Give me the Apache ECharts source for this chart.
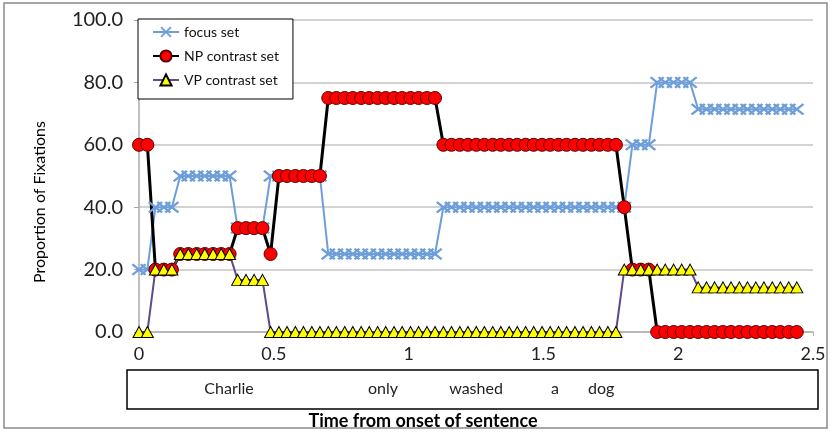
<!DOCTYPE html>
<html>
<head>
<meta charset="utf-8">
<script src="https://cdn.jsdelivr.net/npm/echarts@6/dist/echarts.min.js"></script>
<style>
html,body{margin:0;padding:0;background:#fff;}
#c{width:832px;height:432px;}
</style>
</head>
<body>
<div id="c"></div>
<script>
// Time bins (s)
var times = [0,0.031,0.061,0.092,0.122,0.153,0.183,0.214,0.244,0.275,
  0.305,0.336,0.366,0.397,0.427,0.458,0.488,0.519,0.549,0.58,
  0.61,0.641,0.671,0.702,0.732,0.763,0.793,0.824,0.854,0.885,
  0.915,0.946,0.976,1.007,1.037,1.068,1.098,1.129,1.159,1.19,
  1.22,1.251,1.281,1.312,1.342,1.373,1.403,1.434,1.464,1.495,
  1.525,1.556,1.586,1.617,1.647,1.678,1.708,1.739,1.769,1.8,
  1.83,1.861,1.891,1.922,1.952,1.983,2.013,2.044,2.074,2.105,
  2.135,2.166,2.196,2.227,2.257,2.288,2.318,2.349,2.379,2.41,
  2.44];
var focusSet = [20,20,40,40,40,50,50,50,50,50,
  50,50,33.3,33.3,33.3,33.3,50,50,50,50,
  50,50,50,25,25,25,25,25,25,25,
  25,25,25,25,25,25,25,40,40,40,
  40,40,40,40,40,40,40,40,40,40,
  40,40,40,40,40,40,40,40,40,40,
  60,60,60,80,80,80,80,80,71.4,71.4,
  71.4,71.4,71.4,71.4,71.4,71.4,71.4,71.4,71.4,71.4,
  71.4];
var npSet = [60,60,20,20,20,25,25,25,25,25,
  25,25,33.3,33.3,33.3,33.3,25,50,50,50,
  50,50,50,75,75,75,75,75,75,75,
  75,75,75,75,75,75,75,60,60,60,
  60,60,60,60,60,60,60,60,60,60,
  60,60,60,60,60,60,60,60,60,40,
  20,20,20,0,0,0,0,0,0,0,
  0,0,0,0,0,0,0,0,0,0,
  0];
var vpSet = [0,0,20,20,20,25,25,25,25,25,
  25,25,16.7,16.7,16.7,16.7,0,0,0,0,
  0,0,0,0,0,0,0,0,0,0,
  0,0,0,0,0,0,0,0,0,0,
  0,0,0,0,0,0,0,0,0,0,
  0,0,0,0,0,0,0,0,0,20,
  20,20,20,20,20,20,20,20,14.3,14.3,
  14.3,14.3,14.3,14.3,14.3,14.3,14.3,14.3,14.3,14.3,
  14.3];
var seriesNames = ['focus set','NP contrast set','VP contrast set'];
var words = ['Charlie','only','washed','a','dog'];
var wordTimes = [0.334,0.905,1.25,1.543,1.714];
var xTicks = [0,0.5,1,1.5,2,2.5];
var yTicks = [0,20,40,60,80,100];

var FONT = 'Lato, "Open Sans", sans-serif';
var chart = echarts.init(document.getElementById('c'), null, {renderer:'canvas'});
function pairs(arr){ return times.map(function(t,i){ return [t, arr[i]]; }); }
var xPath = 'path://M0,1.2L1.2,0L5,3.8L8.8,0L10,1.2L6.2,5L10,8.8L8.8,10L5,6.2L1.2,10L0,8.8L3.8,5Z';

var option = {
  animation:false,
  backgroundColor:'#fff',
  grid:{left:139, top:20, width:674, height:312, containLabel:false},
  legend:{
    orient:'vertical', left:138, top:19,
    padding:[6,14,12,14], itemGap:10, itemWidth:26, itemHeight:14,
    backgroundColor:'#fff', borderColor:'#000', borderWidth:1,
    textStyle:{fontFamily:FONT, fontSize:14, color:'#111'},
    data:seriesNames
  },
  xAxis:{
    type:'value', min:xTicks[0], max:xTicks[xTicks.length-1], interval:0.5,
    axisLine:{show:true, lineStyle:{color:'#b0b0b0', width:1.5}},
    axisTick:{show:true, length:4, lineStyle:{color:'#b0b0b0'}},
    splitLine:{show:false},
    axisLabel:{fontFamily:FONT, fontSize:18, color:'#222', margin:13}
  },
  yAxis:{
    type:'value', min:yTicks[0], max:yTicks[yTicks.length-1], interval:20,
    axisLine:{show:true, lineStyle:{color:'#a8a8a8', width:1.5}},
    axisTick:{show:true, length:5, lineStyle:{color:'#a8a8a8'}},
    splitLine:{show:true, lineStyle:{color:'#c4c4c4', width:1.5}},
    axisLabel:{fontFamily:FONT, fontSize:20, color:'#222', margin:16,
      formatter:function(v){ return v.toFixed(1); }}
  },
  series:[
    {name:seriesNames[0], type:'line', data:pairs(focusSet),
      symbol:xPath, symbolSize:[15,12],
      lineStyle:{color:'#6d9eda', width:2},
      itemStyle:{color:'#6d9eda'}},
    {name:seriesNames[1], type:'line', data:pairs(npSet),
      symbol:'circle', symbolSize:13,
      lineStyle:{color:'#000', width:3},
      itemStyle:{color:'#ff0000', borderColor:'#5a0000', borderWidth:1}},
    {name:seriesNames[2], type:'line', data:pairs(vpSet),
      symbol:'triangle', symbolSize:[12,11],
      lineStyle:{color:'#5e4b8b', width:2},
      itemStyle:{color:'#ffff00', borderColor:'#000', borderWidth:1}}
  ]
};
chart.setOption(option);

var g = [
  {type:'rect', shape:{x:4, y:3, width:823, height:425}, silent:true, z:-10,
    style:{fill:'none', stroke:'#8a8a8a', lineWidth:1.5}},
  {type:'rect', shape:{x:127, y:370, width:691, height:39}, silent:true,
    style:{fill:'#fff', stroke:'#000', lineWidth:1.5}},
  {type:'text', x:40, y:202, rotation:Math.PI/2, silent:true,
    style:{text:'Proportion of Fixations', fontFamily:FONT, fontSize:16, fill:'#000',
      align:'center', verticalAlign:'middle'}},
  {type:'text', x:423, y:421, silent:true,
    style:{text:'Time from onset of sentence', fontFamily:FONT, fontSize:18, fontWeight:'bold', fill:'#000',
      align:'center', verticalAlign:'middle'}}
];
words.forEach(function(w,i){
  var px = chart.convertToPixel({xAxisIndex:0}, wordTimes[i]);
  g.push({type:'text', x:px, y:389, silent:true,
    style:{text:w, fontFamily:FONT, fontSize:16, fill:'#222', align:'center', verticalAlign:'middle'}});
});
chart.setOption({graphic:g});
</script>
</body>
</html>
